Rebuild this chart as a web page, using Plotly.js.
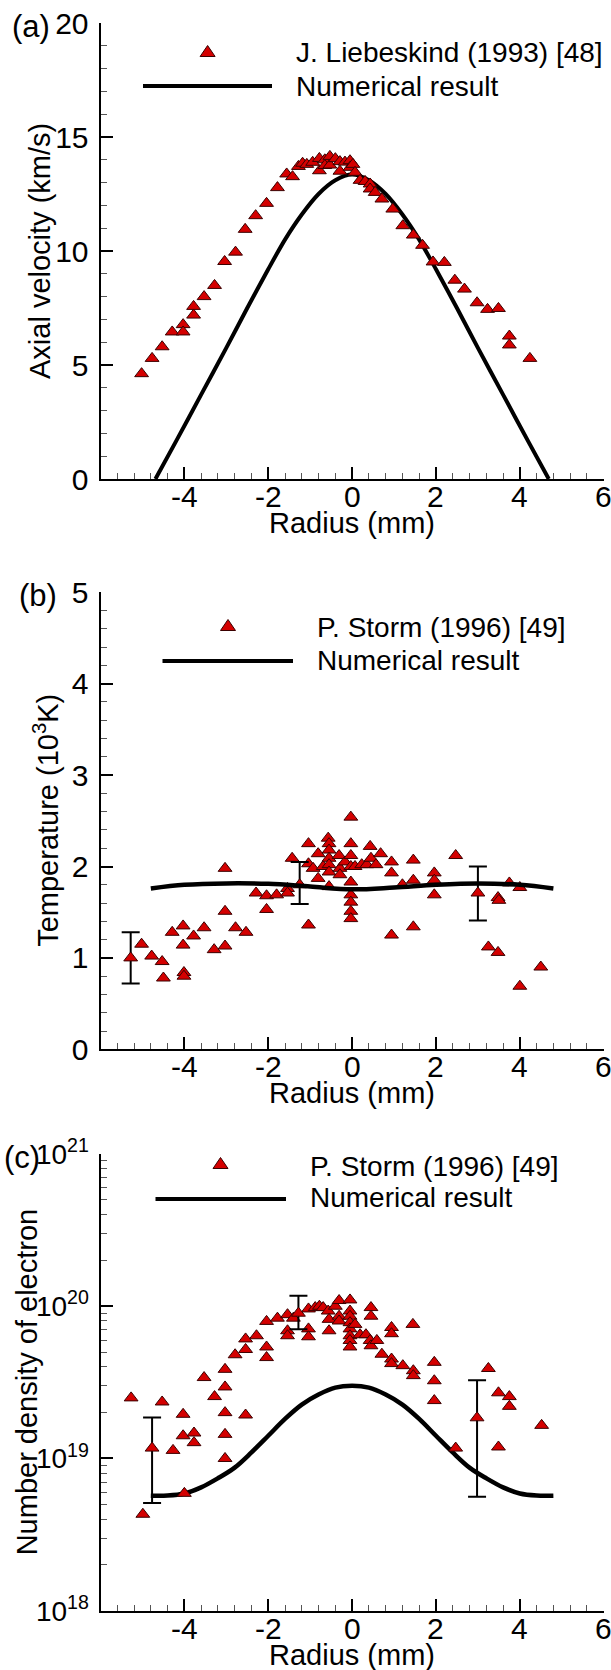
<!DOCTYPE html>
<html>
<head>
<meta charset="utf-8">
<script src="https://cdn.plot.ly/plotly-3.0.1.min.js"></script>
<style>html,body{margin:0;padding:0;background:#fff;}#chart{width:611px;height:1670px;}</style>
</head>
<body>
<div id="chart"></div>
<script>
// ---------- Data ----------
// Panel (a): axial velocity (km/s) vs radius (mm)
const aExpX = [-5.02,-4.77,-4.53,-4.29,-4.03,-4.03,-3.78,-3.78,-3.53,-3.28,-3.04,-2.78,-2.55,-2.30,-2.04,-1.78,-1.56,-1.42,-1.28,-1.18,-1.08,-0.94,-0.78,-0.78,-0.65,-0.65,-0.53,-0.53,-0.40,-0.29,-0.29,-0.17,-0.05,-0.05,0.02,0.07,0.19,0.31,0.43,0.43,0.55,0.71,0.97,1.21,1.46,1.68,1.93,2.20,2.45,2.68,2.98,3.23,3.49,3.75,3.75,4.24];
const aExpV = [4.62,5.29,5.80,6.45,6.77,6.45,7.57,7.19,8.00,8.49,9.54,9.95,10.95,11.55,12.09,12.78,13.38,13.26,13.71,13.85,13.80,13.89,14.06,13.52,14.00,13.75,14.15,13.77,14.05,13.92,13.50,13.90,13.96,13.67,13.80,13.45,13.10,13.05,12.94,12.72,12.57,12.28,11.84,11.11,10.70,10.25,9.52,9.50,8.72,8.33,7.73,7.44,7.48,6.27,5.88,5.29];
const aNumX = [-4.69,-4.2,-3.6,-3.0,-2.5,-2.0,-1.6,-1.2,-0.8,-0.4,0,0.4,0.8,1.2,1.6,2.0,2.5,3.0,3.6,4.2,4.69];
const aNumV = [0,1.65,3.7,5.75,7.5,9.2,10.5,11.6,12.5,13.1,13.35,13.1,12.5,11.6,10.5,9.2,7.5,5.75,3.7,1.65,0];

// Panel (b): temperature (10^3 K) vs radius (mm)
const bExpX = [-5.02,-4.78,-4.53,-4.50,-4.29,-4.03,-4.03,-4.01,-4.01,-3.78,-3.53,-3.29,-3.03,-3.03,-3.03,-2.78,-2.53,-2.29,-2.04,-2.04,-1.80,-1.54,-1.54,-1.43,
  -1.04,-1.04,-1.04,-0.93,-0.81,-0.81,-0.69,-0.57,-0.55,-0.55,-0.55,-0.55,-0.55,-0.55,-0.31,-0.29,-0.29,-0.17,-0.03,-0.03,-0.03,-0.03,-0.03,-0.03,-0.03,-0.03,-0.03,
  0.07,0.23,0.35,0.43,0.45,0.57,0.68,0.94,0.94,0.94,1.20,1.46,1.46,1.46,1.96,1.96,1.96,2.47,3.25,3.48,3.48,3.50,3.75,4.00,4.00,4.50];
const bExpT = [1.15,1.02,0.96,0.78,1.28,1.35,1.14,0.84,0.80,1.24,1.33,1.09,1.98,1.51,1.13,1.33,1.28,1.71,1.68,1.53,1.69,1.76,1.71,2.09,
  2.25,2.03,1.36,1.98,2.14,1.87,2.00,2.31,2.25,2.18,2.09,2.02,1.94,1.78,2.12,1.98,1.91,2.05,2.54,2.25,2.12,2.00,1.83,1.69,1.61,1.51,1.43,
  2.00,2.02,2.02,2.22,2.09,2.02,2.14,2.05,1.93,1.25,1.80,2.07,1.85,1.34,1.93,1.85,1.69,2.12,1.12,1.06,1.66,1.63,1.82,1.77,0.69,0.90];
const bErrX = [-5.28,-1.25,3.00];
const bErrT = [1.00,1.80,1.71];
const bErrHi = [1.28,2.05,2.00];
const bErrLo = [0.72,1.59,1.41];
const bNumX = [-4.8,-4.0,-3.0,-2.0,-1.0,0,1.0,2.0,3.0,4.0,4.8];
const bNumT = [1.76,1.80,1.815,1.81,1.78,1.75,1.77,1.80,1.815,1.80,1.76];

// Panel (c): electron number density vs radius (mm)
const cExpX = [-5.27,-4.99,-4.53,-4.27,-4.03,-4.03,-4.00,-3.77,-3.77,-3.53,-3.28,-3.03,-3.03,-3.03,-3.03,-3.03,-2.79,-2.54,-2.54,-2.54,-2.28,-2.04,-2.04,-2.04,-1.78,-1.54,-1.54,-1.54,-1.40,
  -1.04,-1.04,-1.04,-0.88,-0.78,-0.69,-0.57,-0.55,-0.55,-0.40,-0.31,-0.31,-0.31,-0.05,-0.05,-0.05,-0.05,-0.05,-0.05,-0.05,-0.05,
  0.07,0.19,0.33,0.43,0.45,0.59,0.45,0.45,0.71,0.94,0.94,0.94,0.94,1.21,1.46,1.46,1.45,1.96,1.96,1.96,2.47,3.25,3.49,3.75,3.75,3.49,4.52];
const cExpN = [2.5e19,4.3e18,2.35e19,1.13e19,1.95e19,1.41e19,5.9e18,1.47e19,1.27e19,3.4e19,2.55e19,3.85e19,2.95e19,2.0e19,1.44e19,1.0e19,4.8e19,1.93e19,6.1e19,5.2e19,6.4e19,7.95e19,5.4e19,4.6e19,8.35e19,8.8e19,6.9e19,6.4e19,8.35e19,
  9.6e19,7.1e19,6.3e19,9.8e19,1.0e20,9.8e19,9.3e19,8.2e19,6.9e19,1.0e20,1.09e20,8.6e19,8.0e19,1.1e20,9.3e19,8.6e19,7.8e19,7.1e19,6.4e19,5.96e19,5.4e19,
  7.6e19,6.5e19,6.5e19,5.96e19,5.5e19,5.96e19,9.8e19,8.6e19,4.84e19,4.5e19,4.2e19,7.25e19,6.6e19,4.07e19,3.77e19,3.5e19,7.6e19,4.28e19,3.24e19,2.4e19,1.17e19,3.9e19,2.7e19,2.55e19,2.2e19,1.19e19,1.65e19];
const cErrX = [-4.77,-1.28,2.98];
const cErrN = [1.17e19,9.0e19,1.85e19];
const cErrHi = [1.86e19,1.17e20,3.27e19];
const cErrLo = [5.1e18,7.06e19,5.6e18];
const cNumX = [-4.8,-4.4,-4.0,-3.6,-3.2,-2.8,-2.4,-2.0,-1.6,-1.2,-0.8,-0.4,0,0.4,0.8,1.2,1.6,2.0,2.4,2.8,3.2,3.6,4.0,4.4,4.8];
const cNumN = [5.70e18,5.71e18,5.89e18,6.46e18,7.41e18,8.71e18,1.096e19,1.41e19,1.82e19,2.26e19,2.63e19,2.92e19,3.0e19,2.92e19,2.63e19,2.26e19,1.82e19,1.41e19,1.096e19,8.71e18,7.41e18,6.46e18,5.89e18,5.71e18,5.70e18];

// Tick labels
const xTickVals = [-4,-2,0,2,4,6];
const xTickText = ['-4','-2','0','2','4','6'];
const cTickVals = [1e18,1e19,1e20,1e21];
const cTickText = ['10<sup>18</sup>','10<sup>19</sup>','10<sup>20</sup>','10<sup>21</sup>'];

// Text
const legendExpA = 'J. Liebeskind (1993) [48]';
const legendExpBC = 'P. Storm (1996) [49]';
const legendNum = 'Numerical result';

// ---------- Layout helpers ----------
const W = 611, H = 1670;
const FONT = '"Liberation Sans", Arial, Helvetica, sans-serif';
const PX = x => x / W;
const PY = y => 1 - y / H;
const xL = 100.5, xR = 603.7;
const panels = {
  a: {top: 23, bottom: 479},
  b: {top: 592.3, bottom: 1049.3},
  c: {top: 1154, bottom: 1610.7}
};
const xdom = [PX(xL), PX(xR)];
const ydom = p => [PY(panels[p].bottom), PY(panels[p].top)];

const red = '#d40000';
const marker = {symbol: 'triangle-up', size: 12, color: red, line: {color: '#3a0000', width: 1}};
const tickFont = {family: FONT, size: 30, color: '#000'};

function range(a, b, step) { const out = []; for (let v = a; v <= b + 1e-9; v += step) out.push(+v.toFixed(6)); return out; }

function xAxis(anchor) {
  return {
    domain: xdom, anchor: anchor, range: [-6, 6],
    tickmode: 'array', tickvals: xTickVals, ticktext: xTickText, showticklabels: false,
    showline: true, linewidth: 2, linecolor: '#000', mirror: false,
    ticks: 'inside', ticklen: 12, tickwidth: 2, tickcolor: '#000',
    showgrid: false, zeroline: false, tickfont: tickFont,
    minor: {tickmode: 'array', tickvals: range(-6, 6, 0.4), ticks: 'inside', ticklen: 6, tickwidth: 1, tickcolor: '#555', showgrid: false},
    fixedrange: true
  };
}
function yAxis(p, anchor, rng, dtick, minorStep) {
  return {
    domain: ydom(p), anchor: anchor, range: rng,
    tickmode: 'linear', tick0: 0, dtick: dtick,
    showline: true, linewidth: 2, linecolor: '#000',
    ticks: 'inside', ticklen: 12, tickwidth: 2, tickcolor: '#000',
    showgrid: false, zeroline: false, tickfont: tickFont, ticklabelstandoff: 4,
    minor: {tickmode: 'array', tickvals: range(rng[0], rng[1], minorStep), ticks: 'inside', ticklen: 6, tickwidth: 1, tickcolor: '#555', showgrid: false},
    fixedrange: true
  };
}

const cMinor = [];
[18, 19, 20].forEach(e => { for (let k = 2; k <= 9; k++) cMinor.push(k * Math.pow(10, e)); });

const diff = (a, b) => a.map((v, i) => v - b[i]);

// ---------- Traces ----------
const traces = [
  // (a)
  {x: aNumX, y: aNumV, xaxis: 'x', yaxis: 'y', mode: 'lines', line: {color: '#000', width: 4, shape: 'spline', smoothing: 0.8}, hoverinfo: 'skip'},
  {x: aExpX, y: aExpV, xaxis: 'x', yaxis: 'y', mode: 'markers', marker: marker},
  // (b)
  {x: bExpX, y: bExpT, xaxis: 'x2', yaxis: 'y2', mode: 'markers', marker: marker},
  {x: bErrX, y: bErrT, xaxis: 'x2', yaxis: 'y2', mode: 'markers', marker: marker,
   error_y: {type: 'data', symmetric: false, array: diff(bErrHi, bErrT), arrayminus: diff(bErrT, bErrLo), color: '#000', thickness: 2, width: 9}},
  {x: bNumX, y: bNumT, xaxis: 'x2', yaxis: 'y2', mode: 'lines', line: {color: '#000', width: 4.5, shape: 'spline', smoothing: 1}},
  // (c)
  {x: cNumX, y: cNumN, xaxis: 'x3', yaxis: 'y3', mode: 'lines', line: {color: '#000', width: 4.5, shape: 'spline', smoothing: 1}},
  {x: cExpX, y: cExpN, xaxis: 'x3', yaxis: 'y3', mode: 'markers', marker: marker},
  {x: cErrX, y: cErrN, xaxis: 'x3', yaxis: 'y3', mode: 'markers', marker: marker,
   error_y: {type: 'data', symmetric: false, array: diff(cErrHi, cErrN), arrayminus: diff(cErrN, cErrLo), color: '#000', thickness: 2, width: 9}}
];

// ---------- Annotations & legend shapes ----------
const txt = (text, x, y, size, opts) => Object.assign({text: text, x: PX(x), y: PY(y), xref: 'paper', yref: 'paper', showarrow: false,
  xanchor: 'left', yanchor: 'middle', font: {family: FONT, size: size, color: '#000'}}, opts || {});

const annotations = [
  txt('(a)', 10, 27, 31), txt('(b)', 17, 595, 31), txt('(c)', 2, 1157, 31),
  txt('Axial velocity (km/s)', 40, (panels.a.top + panels.a.bottom) / 2, 29, {textangle: -90, xanchor: 'center'}),
  txt('Temperature (10<sup>3</sup>K)', 46, (panels.b.top + panels.b.bottom) / 2, 29, {textangle: -90, xanchor: 'center'}),
  txt('Number density of electron', 27, (panels.c.top + panels.c.bottom) / 2, 29, {textangle: -90, xanchor: 'center'}),
  txt('Radius (mm)', (xL + xR) / 2, panels.a.bottom + 44, 29, {xanchor: 'center'}),
  txt('Radius (mm)', (xL + xR) / 2, panels.b.bottom + 44, 29, {xanchor: 'center'}),
  txt('Radius (mm)', (xL + xR) / 2, panels.c.bottom + 44, 29, {xanchor: 'center'}),
  txt(legendExpA, 293.8, 52, 28), txt(legendNum, 293.8, 86, 28),
  txt(legendExpBC, 314.5, 627, 28), txt(legendNum, 314.5, 660, 28),
  txt(legendExpBC, 307.5, 1166, 28), txt(legendNum, 307.5, 1197, 28)
];
// x-axis tick labels, placed on each x axis's own scale
[['x', 'a'], ['x2', 'b'], ['x3', 'c']].forEach(([ax, p]) => {
  xTickVals.forEach((v, i) => {
    annotations.push({text: xTickText[i], x: v, xref: ax, y: PY(panels[p].bottom + 17.5), yref: 'paper', showarrow: false,
      xanchor: 'center', yanchor: 'middle', font: tickFont});
  });
});

function triPath(cx, cy) {
  return 'M' + PX(cx) + ',' + PY(cy - 6.5) + ' L' + PX(cx + 7.5) + ',' + PY(cy + 4.5) + ' L' + PX(cx - 7.5) + ',' + PY(cy + 4.5) + ' Z';
}
const legShape = (x0, x1, y) => ({type: 'line', xref: 'paper', yref: 'paper', x0: PX(x0), x1: PX(x1), y0: PY(y), y1: PY(y), line: {color: '#000', width: 4}});
const triShape = (cx, cy) => ({type: 'path', xref: 'paper', yref: 'paper', path: triPath(cx, cy), fillcolor: red, line: {color: '#3a0000', width: 1}});
const shapes = [
  triShape(207.6, 52), legShape(143, 272, 86),
  triShape(228, 626), legShape(162.5, 293, 661),
  triShape(220.5, 1164), legShape(155.5, 286, 1199)
];

const layout = {
  width: W, height: H, margin: {l: 0, r: 0, t: 0, b: 0, pad: 0},
  paper_bgcolor: '#fff', plot_bgcolor: '#fff', showlegend: false,
  font: {family: FONT, size: 27, color: '#000'},
  xaxis: xAxis('y'), xaxis2: xAxis('y2'), xaxis3: xAxis('y3'),
  yaxis: yAxis('a', 'x', [0, 20], 5, 1),
  yaxis2: yAxis('b', 'x2', [0, 5], 1, 0.2),
  yaxis3: Object.assign(yAxis('c', 'x3', [18, 21], 1, 1), {type: 'log', range: [18, 21], tickmode: 'array', tickvals: cTickVals, ticktext: cTickText,
    tickfont: {family: FONT, size: 28, color: '#000'},
    minor: {tickmode: 'array', tickvals: cMinor, ticks: 'inside', ticklen: 6, tickwidth: 1, tickcolor: '#555', showgrid: false}}),
  annotations: annotations, shapes: shapes
};

Plotly.newPlot('chart', traces, layout, {staticPlot: true, displayModeBar: false});
</script>
</body>
</html>
